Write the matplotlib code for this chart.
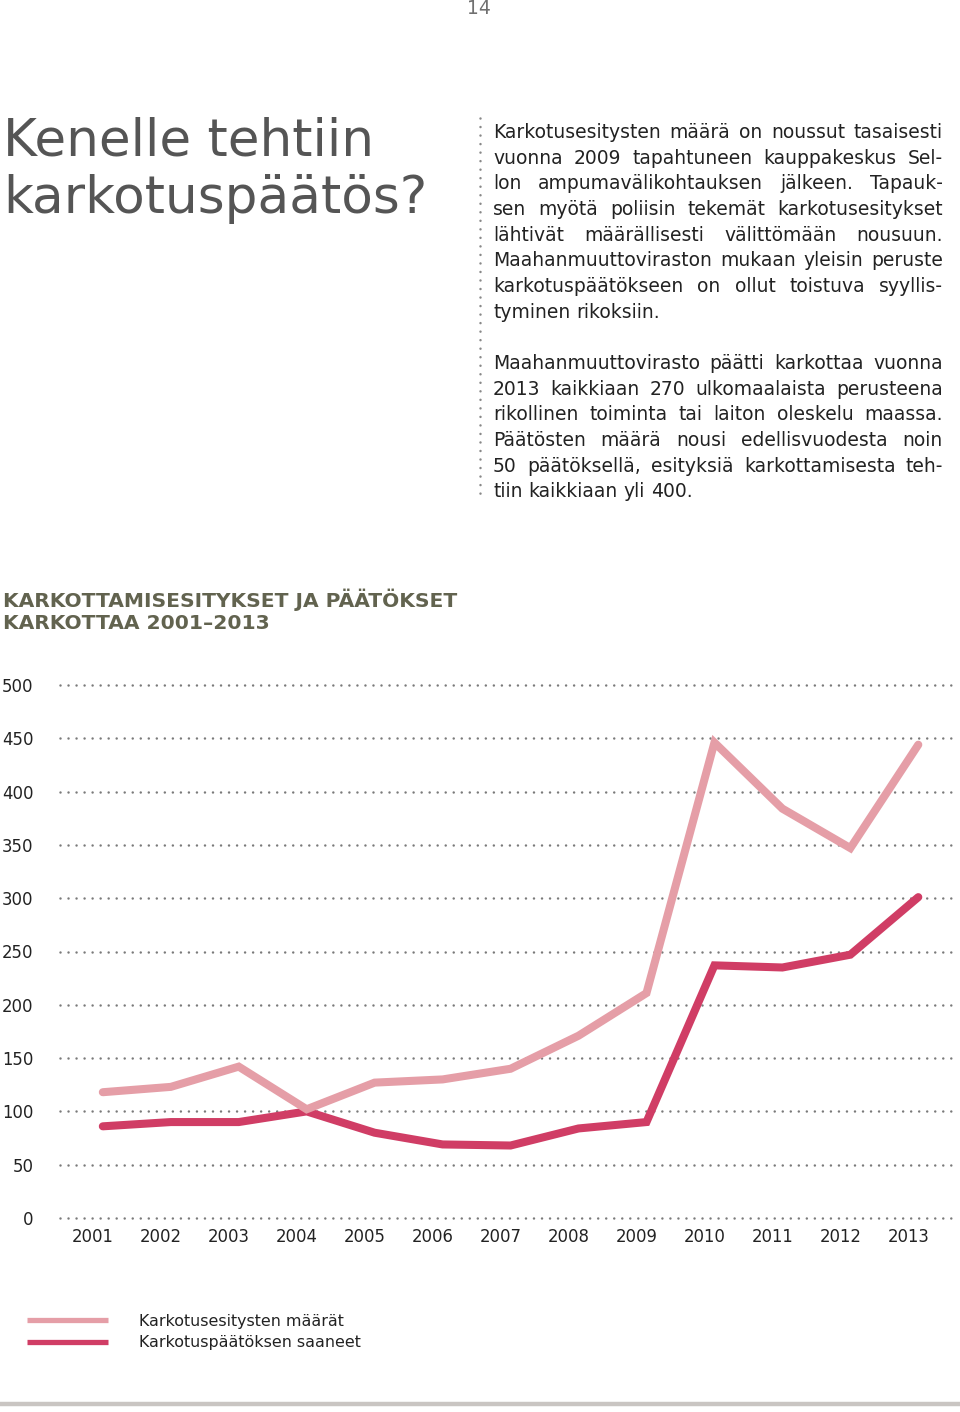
import matplotlib
matplotlib.use("Agg")
import matplotlib.pyplot as plt
import matplotlib.transforms as mtransforms
from matplotlib.lines import Line2D

plt.rcParams["font.family"] = ["DejaVu Sans"]

W, H = 960, 1412

years = [2001, 2002, 2003, 2004, 2005, 2006, 2007, 2008, 2009, 2010, 2011, 2012, 2013]
esitykset = [118, 123, 142, 102, 127, 130, 140, 171, 211, 446, 384, 347, 444]
paatokset = [86, 90, 90, 100, 80, 69, 68, 84, 90, 237, 235, 247, 301]
y_ticks = [0, 50, 100, 150, 200, 250, 300, 350, 400, 450, 500]
series_labels = ["Karkotusesitysten määrät", "Karkotuspäätöksen saaneet"]

title_lines = ["Kenelle tehtiin", "karkotuspäätös?"]
chart_title = ["KARKOTTAMISESITYKSET JA PÄÄTÖKSET", "KARKOTTAA 2001–2013"]
para1 = [
    "Karkotusesitysten määrä on noussut tasaisesti",
    "vuonna 2009 tapahtuneen kauppakeskus Sel-",
    "lon ampumavälikohtauksen jälkeen. Tapauk-",
    "sen myötä poliisin tekemät karkotusesitykset",
    "lähtivät määrällisesti välittömään nousuun.",
    "Maahanmuuttoviraston mukaan yleisin peruste",
    "karkotuspäätökseen on ollut toistuva syyllis-",
    "tyminen rikoksiin.",
]
para2 = [
    "Maahanmuuttovirasto päätti karkottaa vuonna",
    "2013 kaikkiaan 270 ulkomaalaista perusteena",
    "rikollinen toiminta tai laiton oleskelu maassa.",
    "Päätösten määrä nousi edellisvuodesta noin",
    "50 päätöksellä, esityksiä karkottamisesta teh-",
    "tiin kaikkiaan yli 400.",
]

LIGHT = "#E59EA7"
DARK = "#D03D65"
TEXT = "#222222"
GRID = "#7a7a7a"


def fx(x):
    return x / W


def fy(y):
    return 1 - y / H


def text_width(fig, renderer, s, fs):
    t = fig.text(0, 0, s, fontsize=fs)
    w = t.get_window_extent(renderer).width
    t.remove()
    return w


def justify(fig, renderer, line, x0, x1, y, last, fs, space):
    words = line.split(" ")
    texts = [fig.text(0, fy(y), w, fontsize=fs, color=TEXT, va="baseline") for w in words]
    widths = [t.get_window_extent(renderer).width for t in texts]
    if last or len(words) == 1:
        gap = space
    else:
        gap = (x1 - x0 - sum(widths)) / (len(words) - 1)
    x = x0
    for t, w in zip(texts, widths):
        t.set_x(fx(x))
        x += w + gap


fig = plt.figure(figsize=(W / 100, H / 100), dpi=100)
fig.patch.set_facecolor("white")
renderer = fig.canvas.get_renderer()

# page number
fig.text(fx(479), fy(9), "14", fontsize=13.5, color="#707070", ha="center", va="center",
         family=["Liberation Sans Narrow", "DejaVu Sans"])

# big title
for i, s in enumerate(title_lines):
    fig.text(fx(3), fy(155 + 58 * i), s, fontsize=37.2, color="#555555", va="baseline")

# dotted divider
fig.add_artist(Line2D([fx(480), fx(480)], [fy(118), fy(500)], color="#888888",
                      linewidth=1.8, linestyle=(0, (0.01, 3.4)), dash_capstyle="round",
                      transform=fig.transFigure))

# body text, justified
fs_body = 13.5
space = text_width(fig, renderer, "n n", fs_body) - text_width(fig, renderer, "nn", fs_body)
for i, line in enumerate(para1):
    justify(fig, renderer, line, 493, 943, 138 + 25.65 * i, i == len(para1) - 1, fs_body, space)
for i, line in enumerate(para2):
    justify(fig, renderer, line, 493, 943, 369 + 25.65 * i, i == len(para2) - 1, fs_body, space)

# chart heading
for i, s in enumerate(chart_title):
    fig.text(fx(3), fy(607 + 22 * i), s, fontsize=14.6, fontweight="bold",
             color="#62634F", va="baseline")

# chart
ax = fig.add_axes([fx(60), fy(1218), (955 - 60) / W, (1218 - 685) / H])
ax.set_xlim(2000.37, 2013.54)
ax.set_ylim(0, 500)
for v in y_ticks:
    ax.axhline(v, color=GRID, linewidth=1.8, linestyle=(0, (0.01, 3.2)),
               dash_capstyle="round", zorder=1, clip_on=False)

ax.plot(years, esitykset, color=LIGHT, linewidth=5.8, solid_capstyle="round",
        solid_joinstyle="miter", zorder=4, clip_on=False, label=series_labels[0])
ax.plot(years, paatokset, color=DARK, linewidth=5.8, solid_capstyle="round",
        solid_joinstyle="miter", zorder=3, clip_on=False, label=series_labels[1])

for s in ax.spines.values():
    s.set_visible(False)
ax.set_xticks(years)
ax.set_xticklabels([str(y) for y in years])
ax.set_yticks(y_ticks)
ax.tick_params(axis="both", length=0, labelsize=11.9, labelcolor=TEXT)
ax.tick_params(axis="x", pad=7)
ax.tick_params(axis="y", pad=19)
shift = mtransforms.ScaledTranslation(-10 / 100, 0, fig.dpi_scale_trans)
for lab in ax.get_xticklabels():
    lab.set_transform(lab.get_transform() + shift)

leg = ax.legend(loc="upper left", bbox_to_anchor=(fx(27), fy(1314)),
                bbox_transform=fig.transFigure, frameon=False, fontsize=11.4,
                handlelength=5.1, handletextpad=1.95, labelspacing=0.4,
                borderpad=0, borderaxespad=0)
for h in leg.legend_handles:
    h.set_linewidth(3.8)
    h.set_solid_capstyle("butt")
for t in leg.get_texts():
    t.set_color(TEXT)

# bottom rule
fig.add_artist(Line2D([0, 1], [fy(1404), fy(1404)], color="#C9C5C2", linewidth=3.2,
                      transform=fig.transFigure))

fig.savefig("out.png", dpi=100, facecolor="white")
